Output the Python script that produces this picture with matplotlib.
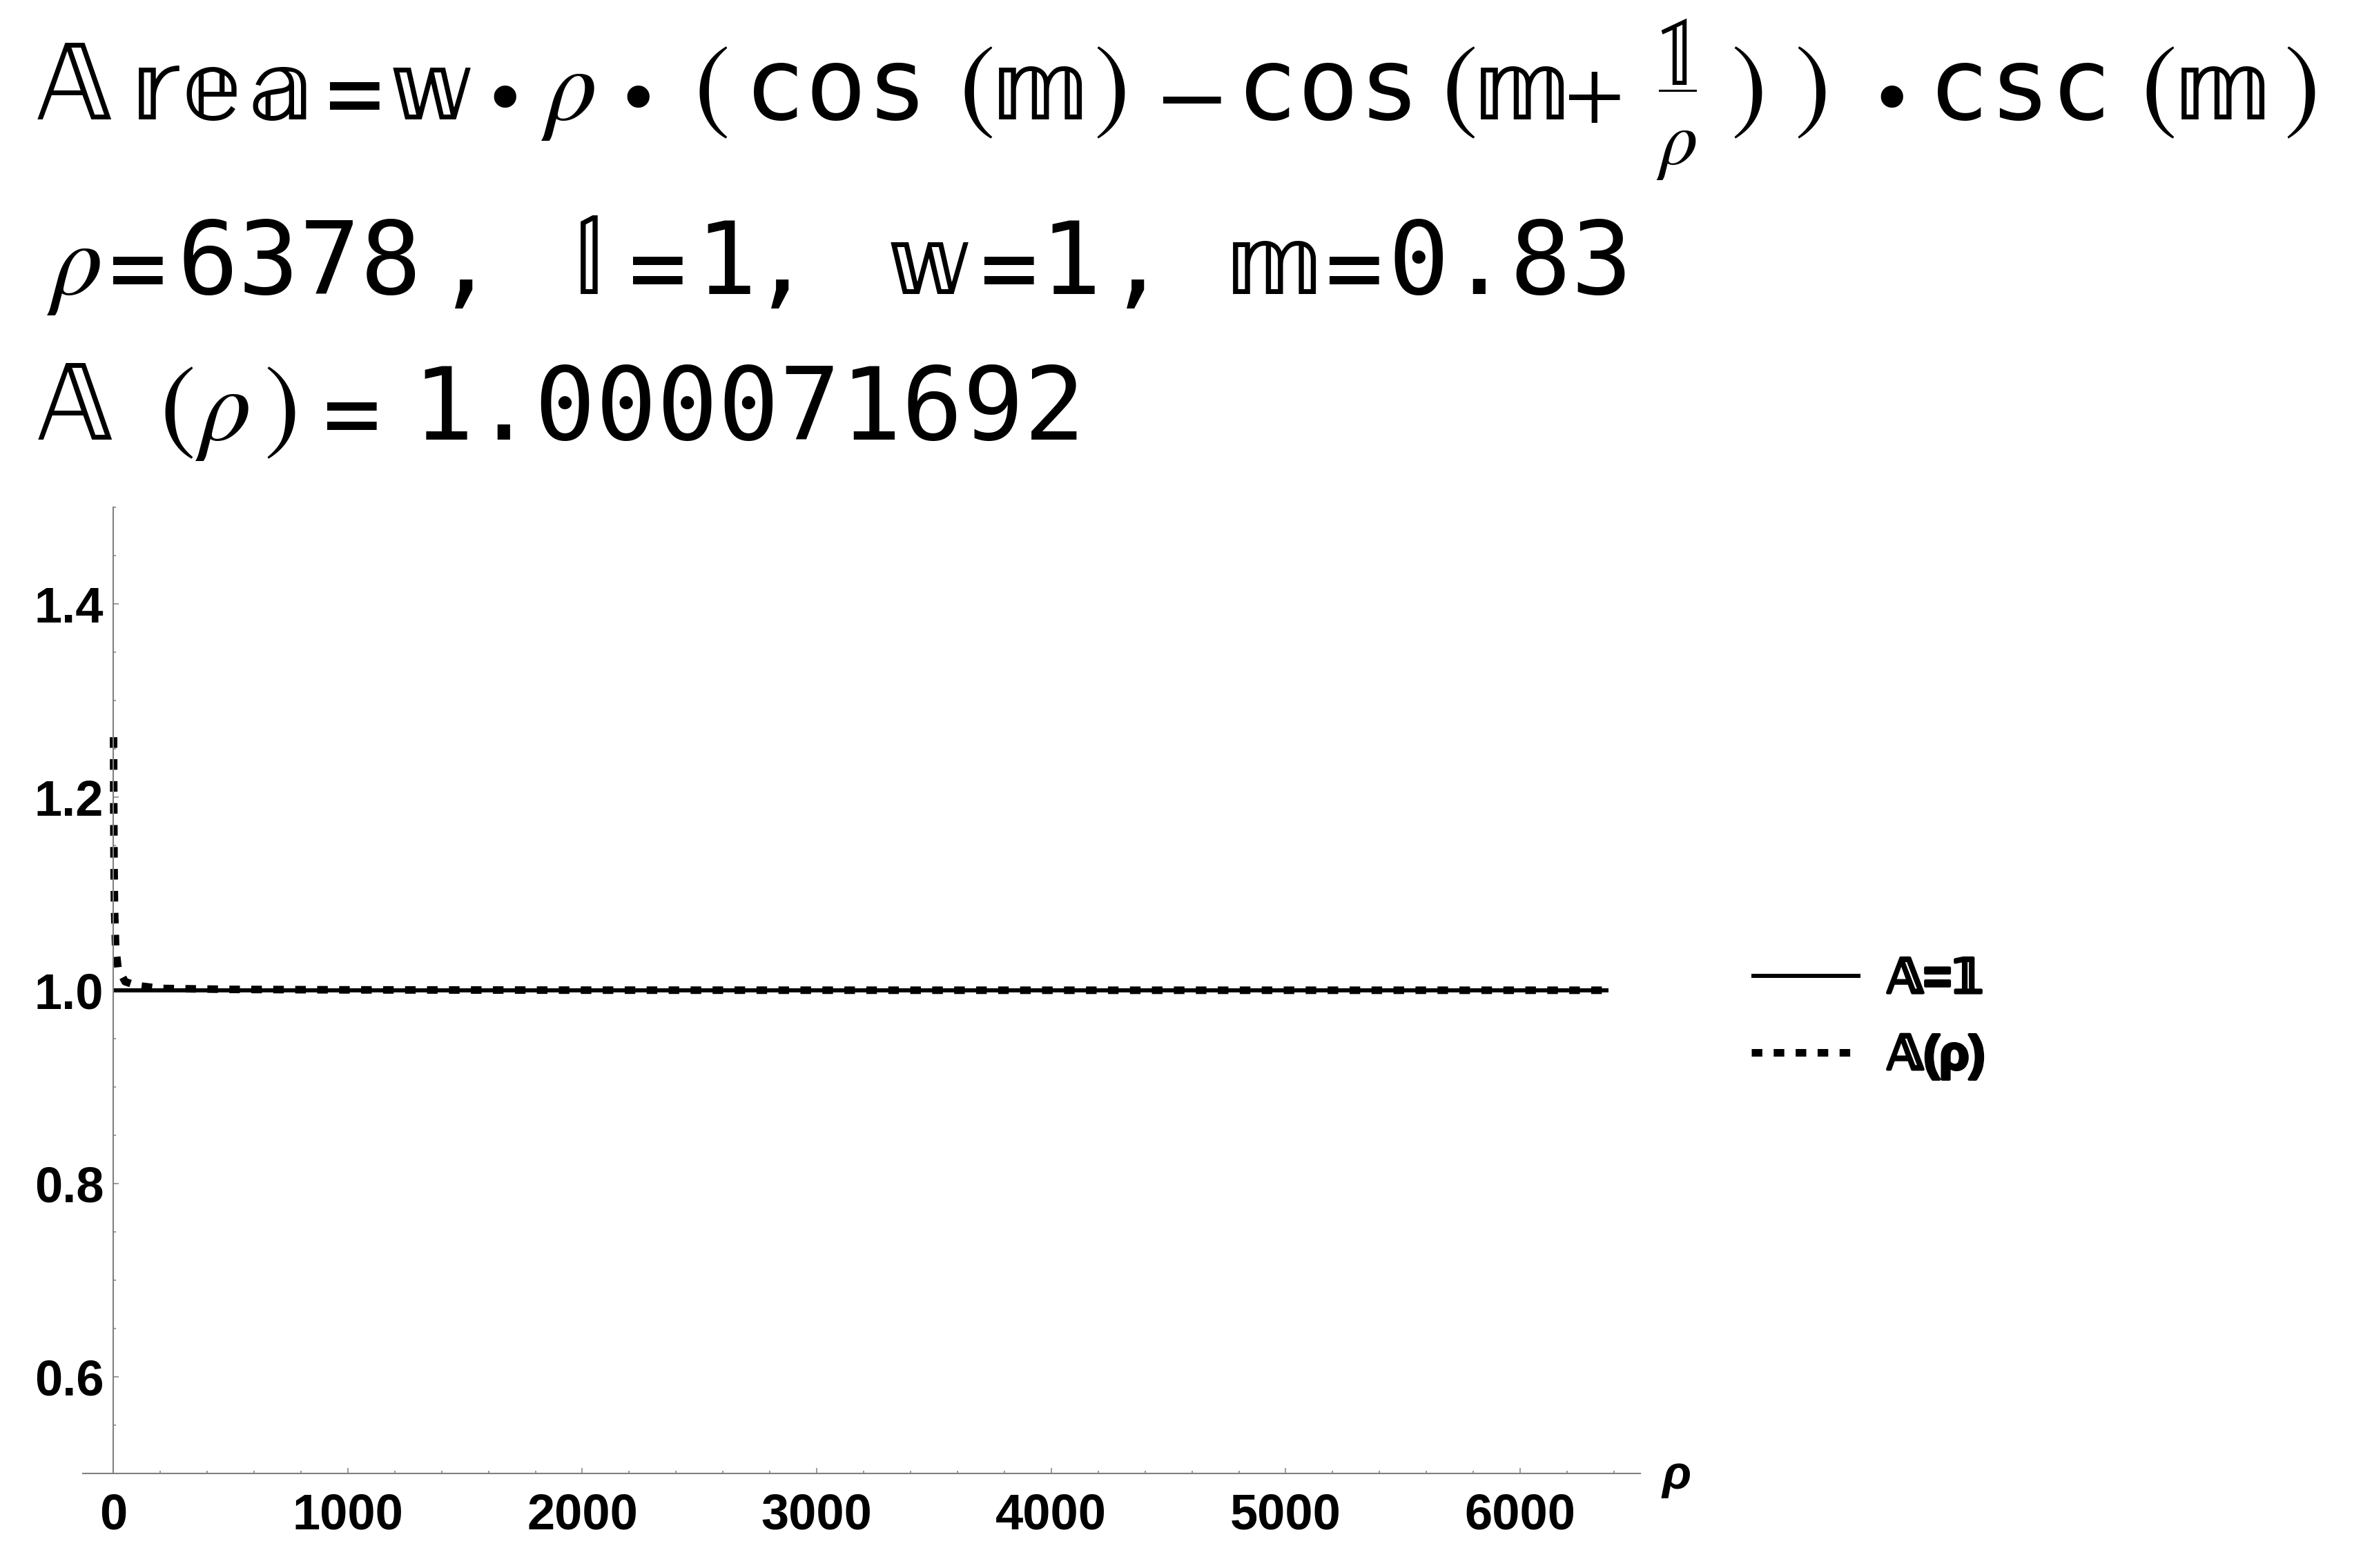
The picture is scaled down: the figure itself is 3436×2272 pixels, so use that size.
import matplotlib
matplotlib.use("Agg")
import matplotlib.pyplot as plt
from matplotlib import patheffects
from matplotlib.lines import Line2D
from matplotlib.ticker import FixedLocator, MultipleLocator

W, H, DPI = 3436, 2272, 100

# values
rho = [1, 2, 3, 5, 10, 20, 50, 100, 200, 500, 1000, 2000, 4000, 6378]
area = [1.262, 1.183, 1.133, 1.085, 1.045, 1.023, 1.009, 1.005, 1.002,
        1.001, 1.0005, 1.0002, 1.0001, 1.0001]
ref_rho = [0, 6378]
ref_area = [1.0, 1.0]

x_ticks = [0, 1000, 2000, 3000, 4000, 5000, 6000]
y_ticks = [0.6, 0.8, 1.0, 1.2, 1.4]
legend_labels = ["𝔸=𝟙", "𝔸(ρ)"]

GRAY = "#808080"
TICKFONT = dict(family="Liberation Sans", weight="bold", size=52)

fig = plt.figure(figsize=(W / DPI, H / DPI), dpi=DPI)
fig.patch.set_facecolor("white")


def put(x, y, s, **kw):
    # place text using pixel coordinates measured from the top-left corner
    return fig.text(x / W, 1 - y / H, s, **kw)


# --- heading lines (glyph centres in pixels, one baseline per line) ---
styles = {
    "mono": dict(family="DejaVu Sans Mono", size=106),
    "op": dict(family="DejaVu Sans Mono", size=100),
    "dot": dict(family="DejaVu Sans", size=80),
    "ds": dict(family=["STIXGeneral", "DejaVu Sans"], size=120),
    "DS": dict(family=["STIXGeneral", "DejaVu Sans"], size=120),
    "rho": dict(family="STIXGeneral", style="italic", size=108),
    "paren": dict(family="STIXGeneral", size=112),
    "plus": dict(family="STIXGeneral", size=90),
}
shift = {"op": 10, "dot": 8}

line1 = [(107, "𝔸", "DS"), (217, "𝕣", "ds"), (306, "𝕖", "ds"), (405, "𝕒", "ds"),
         (514, "=", "op"), (622, "𝕨", "ds"), (731, "•", "dot"), (828, "ρ", "rho"),
         (924, "•", "dot"), (1031, "(", "paren"), (1211, "cos", "mono"),
         (1415, "(", "paren"), (1507, "𝕞", "ds"), (1610, ")", "paren"),
         (1727, "–", "op"), (1924, "cos", "mono"), (2114, "(", "paren"),
         (2205, "𝕞", "ds"), (2310, "+", "plus"), (2533, ")", "paren"),
         (2625, ")", "paren"), (2740, "•", "dot"), (2926, "csc", "mono"),
         (3127, "(", "paren"), (3220, "𝕞", "ds"), (3334, ")", "paren")]
line2 = [(112, "ρ", "rho"), (200, "=", "op"), (434, "6378", "mono"),
         (674, ",", "mono"), (853, "𝕝", "ds"), (953, "=", "op"), (1052, "1", "mono"),
         (1132, ",", "mono"), (1343, "𝕨", "ds"), (1462, "=", "op"),
         (1551, "1", "mono"), (1647, ",", "mono"), (1846, "𝕞", "ds"),
         (1962, "=", "op"), (2188, "0.83", "mono")]
line3 = [(108, "𝔸", "DS"), (257, "(", "paren"), (327, "ρ", "rho"),
         (408, ")", "paren"), (510, "=", "op"), (1085, "1.000071692", "mono")]

for baseline, items in [(173, line1), (426, line2), (637, line3)]:
    for cx, s, kind in items:
        put(cx, baseline + shift.get(kind, 0), s, ha="center", va="baseline",
            **styles[kind])

# the 𝟙/ρ fraction inside the first line
put(2431, 123, "𝟙", ha="center", va="baseline",
    family=["STIXGeneral", "DejaVu Sans"], size=100)
put(2431, 238, "ρ", ha="center", va="baseline",
    family="STIXGeneral", style="italic", size=80)
fig.add_artist(Line2D([2404 / W, 2456 / W], [1 - 131 / H, 1 - 131 / H],
                      transform=fig.transFigure, color="black", lw=2.2))

# --- plot ---
ax = fig.add_axes([120 / W, 1 - 2135 / H, 2256 / W, 1400 / H])
ax.plot(ref_rho, ref_area, color="black", lw=4.3, solid_capstyle="butt",
        label=legend_labels[0])
ax.plot(rho, area, color="black", lw=7.9, linestyle=(0, (1.4, 1.5)),
        dash_capstyle="butt", label=legend_labels[1])

ax.set_xlim(-130, 6512)
ax.set_ylim(0.5, 1.5)

ax.spines["left"].set_position(("data", 0))
ax.spines[["top", "right"]].set_visible(False)
for side in ["left", "bottom"]:
    ax.spines[side].set_color(GRAY)
    ax.spines[side].set_linewidth(1.5)

ax.xaxis.set_major_locator(FixedLocator(x_ticks))
ax.xaxis.set_minor_locator(MultipleLocator(200))
ax.yaxis.set_major_locator(FixedLocator(y_ticks))
ax.yaxis.set_minor_locator(MultipleLocator(0.05))
ax.set_xticklabels([str(v) for v in x_ticks], **TICKFONT)
ax.set_yticklabels([f"{v:.1f}" for v in y_ticks], **TICKFONT)

ax.tick_params(which="both", direction="in", color=GRAY, width=1.1)
ax.tick_params(which="major", length=5.8)
ax.tick_params(which="minor", length=3.2)
ax.tick_params(axis="x", pad=19.5)
ax.tick_params(axis="y", pad=10)

put(2429, 2157, "ρ", ha="center", va="baseline", family="Liberation Sans",
    weight="bold", style="italic", size=50)

leg = ax.legend(loc="center left", bbox_to_anchor=(2537 / W, 1 - 1476 / H),
                bbox_transform=fig.transFigure, frameon=False,
                prop=dict(family=["Liberation Sans", "DejaVu Sans", "STIXGeneral"],
                          weight="bold", size=50),
                handlelength=2.28, handletextpad=0.55, labelspacing=0.66,
                borderpad=0, borderaxespad=0)
# the double-struck glyphs only exist in a regular weight; thicken them
for t in leg.get_texts():
    t.set_path_effects([patheffects.withStroke(linewidth=3, foreground="black")])

fig.savefig("out.png", dpi=DPI)
